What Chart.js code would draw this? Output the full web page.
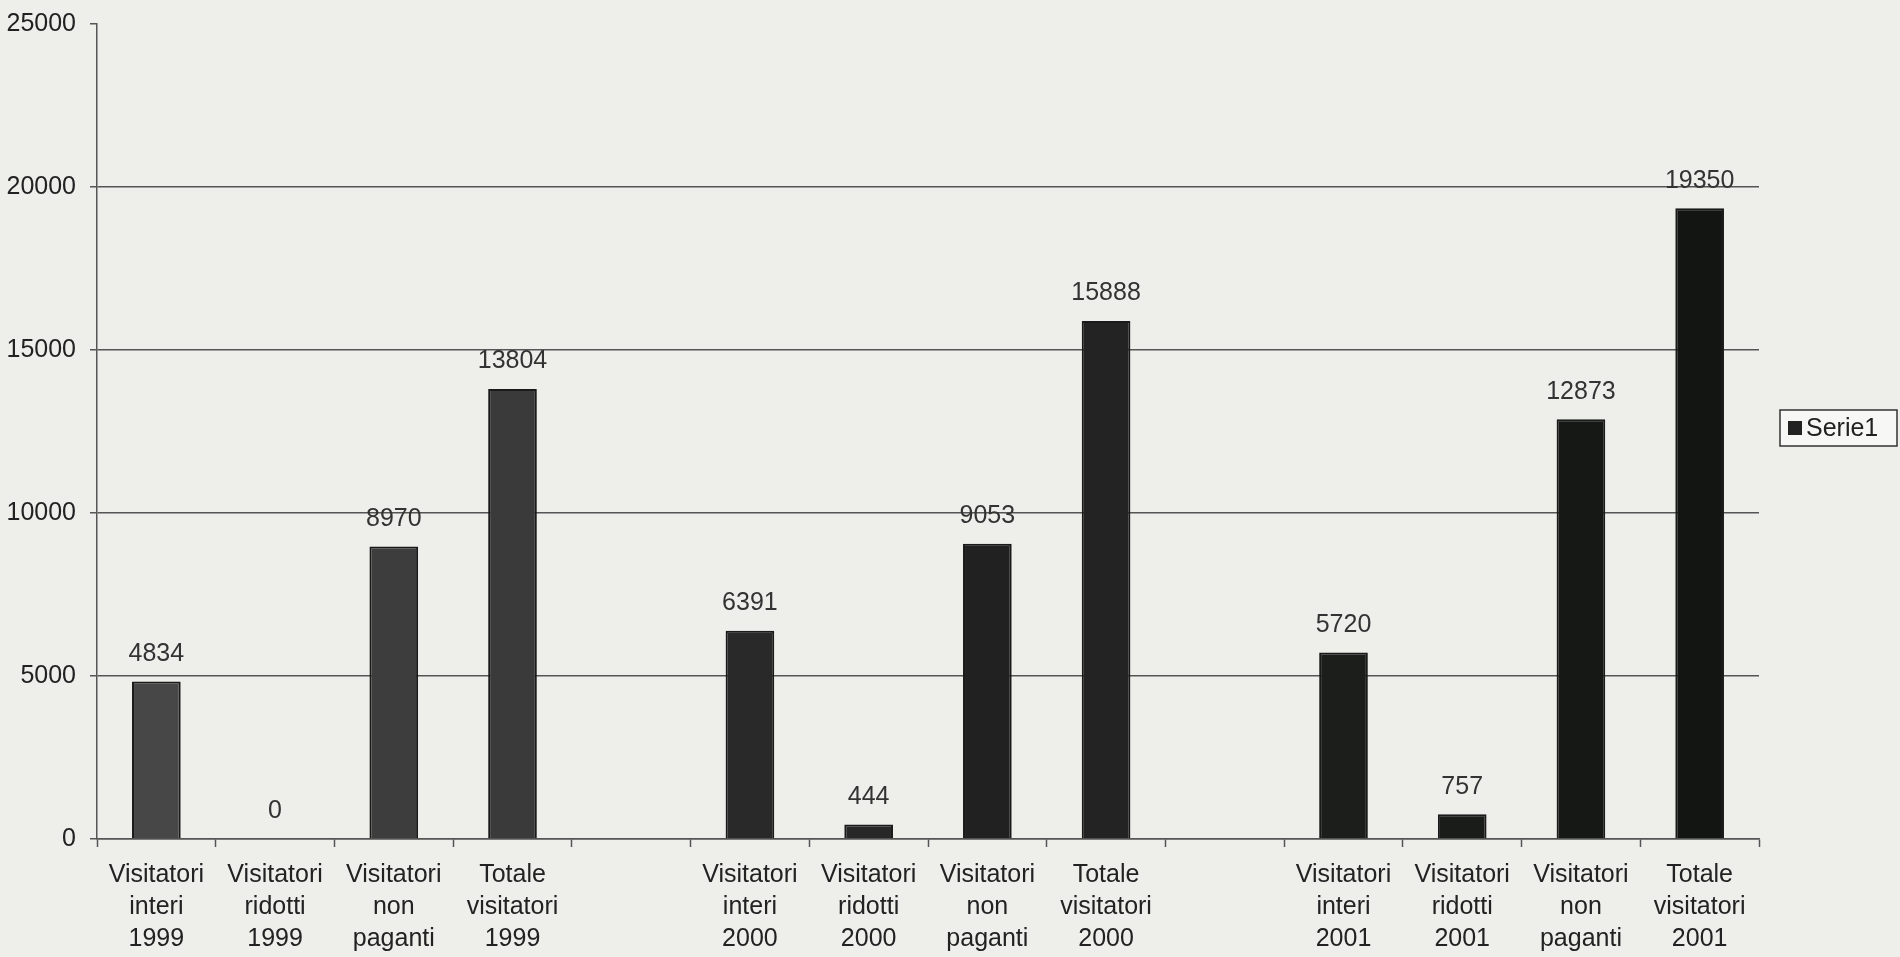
<!DOCTYPE html>
<html>
  <head>
    <meta charset='utf-8'>
    <title>Visitatori 1999-2001</title>
    <style>
      html, body {
        margin: 0;
        padding: 0;
        background: #eeeeeb;
      }
      #wrap {
        width: 1900px;
        height: 957px;
      }
    </style>
    <script src='https://cdn.jsdelivr.net/npm/chart.js@4/dist/chart.umd.min.js'></script>
  </head>
  <body>
    <div id='wrap'><canvas id='bars' width='1900' height='957'></canvas></div>

    <script>
    // categories (empty slots separate the years)
    var categories = [
      ['Visitatori', 'interi', '1999'], ['Visitatori', 'ridotti', '1999'],
      ['Visitatori', 'non', 'paganti'], ['Totale', 'visitatori', '1999'],
      '',
      ['Visitatori', 'interi', '2000'], ['Visitatori', 'ridotti', '2000'],
      ['Visitatori', 'non', 'paganti'], ['Totale', 'visitatori', '2000'],
      '',
      ['Visitatori', 'interi', '2001'], ['Visitatori', 'ridotti', '2001'],
      ['Visitatori', 'non', 'paganti'], ['Totale', 'visitatori', '2001']
    ];
    var serie1 = [4834, 0, 8970, 13804, null, 6391, 444, 9053, 15888, null, 5720, 757, 12873, 19350];
    var yTicks = [0, 5000, 10000, 15000, 20000, 25000];

    var barColors = [
      '#474747', '#474747', '#3d3d3d', '#3a3a3a', '#333',
      '#292929', '#272727', '#212121', '#232323', '#222',
      '#1c1e1c', '#1a1c1a', '#151815', '#121512'
    ];

    var font = 'Liberation Sans, Arial, sans-serif';

    var valueLabels = {
      id: 'valueLabels',
      afterDatasetsDraw: function (chart) {
        var ctx = chart.ctx;
        var meta = chart.getDatasetMeta(0);
        ctx.save();
        ctx.font = '25px ' + font;
        ctx.fillStyle = '#333';
        ctx.textAlign = 'center';
        ctx.textBaseline = 'bottom';
        meta.data.forEach(function (bar, i) {
          var v = serie1[i];
          if (v === null) return;
          ctx.fillText(String(v), bar.x, bar.y - 15);
        });
        ctx.restore();
      }
    };

    var legendBox = {
      id: 'legendBox',
      afterDraw: function (chart) {
        var ctx = chart.ctx;
        ctx.save();
        ctx.fillStyle = '#f7f7f5';
        ctx.fillRect(1780, 410, 117, 36);
        ctx.strokeStyle = '#333';
        ctx.lineWidth = 1.5;
        ctx.strokeRect(1780, 410, 117, 36);
        ctx.fillStyle = '#222';
        ctx.fillRect(1788, 421, 14, 14);
        ctx.font = '25px ' + font;
        ctx.fillStyle = '#222';
        ctx.textBaseline = 'middle';
        ctx.fillText('Serie1', 1806, 429);
        ctx.restore();
      }
    };

    var chart = new Chart(document.getElementById('bars'), {
      type: 'bar',
      data: {
        labels: categories,
        datasets: [{
          label: 'Serie1',
          data: serie1,
          backgroundColor: barColors,
          borderColor: '#1a1a1a',
          borderWidth: 2,
          categoryPercentage: 1,
          barPercentage: 0.41
        }]
      },
      options: {
        responsive: false,
        animation: false,
        layout: {
          padding: { top: 12, right: 141, left: 0, bottom: 0 }
        },
        plugins: {
          legend: { display: false },
          tooltip: { enabled: false }
        },
        scales: {
          x: {
            offset: true,
            grid: {
              offset: true,
              drawOnChartArea: false,
              tickLength: 8,
              tickColor: '#555',
              tickWidth: 1.5
            },
            border: { color: '#555', width: 1.5 },
            ticks: {
              autoSkip: false,
              maxRotation: 0,
              color: '#222',
              padding: 12,
              font: { family: font, size: 25, lineHeight: 1.28 }
            },
            afterFit: function (scale) { scale.height = 118; }
          },
          y: {
            min: 0,
            max: 25000,
            afterBuildTicks: function (scale) {
              scale.ticks = yTicks.map(function (v) { return { value: v }; });
            },
            grid: {
              color: function (c) {
                return (c.tick && c.tick.value === 25000) ? 'rgba(0,0,0,0)' : '#555';
              },
              lineWidth: 1.5,
              tickLength: 7,
              tickColor: '#555'
            },
            border: { color: '#555', width: 1.5 },
            ticks: {
              color: '#222',
              padding: 14,
              font: { family: font, size: 25, lineHeight: 0.8 },
              callback: function (v) { return String(v); }
            },
            afterFit: function (scale) { scale.width = 97; }
          }
        }
      },
      plugins: [valueLabels, legendBox]
    });
    </script>
  </body>
</html>
